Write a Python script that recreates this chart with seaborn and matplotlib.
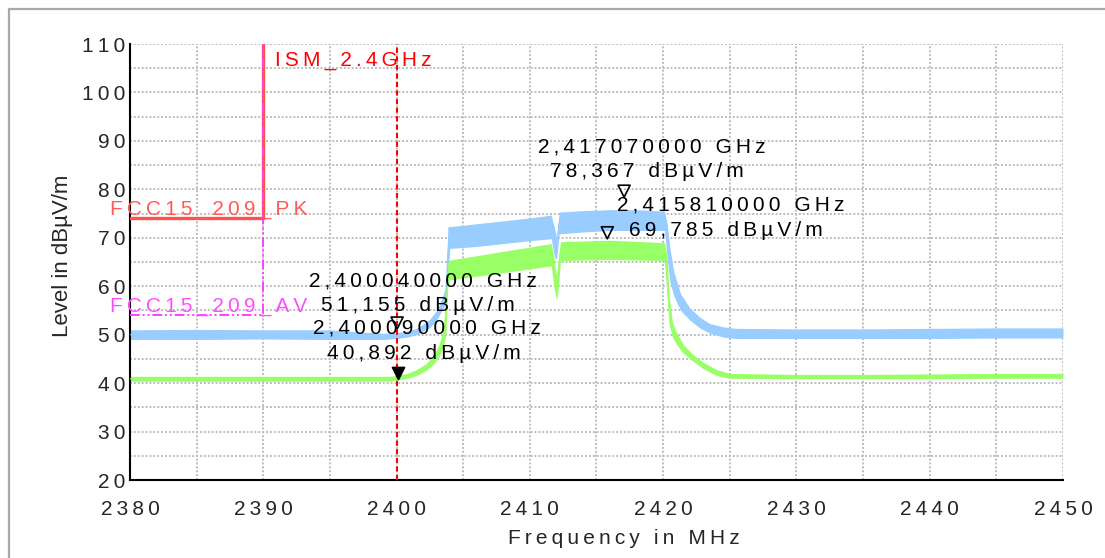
import numpy as np
import pandas as pd
import matplotlib
matplotlib.use("Agg")
import matplotlib.pyplot as plt
import seaborn as sns
from matplotlib.path import Path
from matplotlib.lines import Line2D

# ---------------- data ----------------
# Peak trace (blue): frequency (MHz), lower and upper envelope (dBµV/m)
pk_freq = [2380, 2385, 2390, 2395, 2397, 2399.0, 2400.0, 2400.8, 2401.5, 2402.0, 2402.5,
           2403.0, 2403.4, 2403.7, 2403.85, 2404.0, 2406, 2408, 2410, 2411.6, 2411.85,
           2412.0, 2412.2, 2414, 2416, 2418, 2420.1, 2420.3, 2420.5, 2420.8, 2421.3,
           2422.0, 2422.8, 2423.5, 2424.5, 2425.5, 2430, 2435, 2440, 2445, 2450]
pk_lo = [49.0, 49.0, 49.1, 49.0, 49.0, 49.0, 49.2, 49.5, 50.0, 50.8, 51.5,
         53.0, 55.0, 56.5, 62.0, 67.8, 68.2, 68.8, 69.4, 69.8, 66.0,
         65.5, 70.8, 71.2, 71.5, 71.5, 71.5, 66.0, 61.0, 58.0, 55.0,
         53.0, 51.3, 50.3, 49.5, 49.2, 49.2, 49.2, 49.2, 49.3, 49.3]
pk_hi = [51.0, 51.1, 51.0, 51.0, 50.6, 50.3, 50.4, 50.8, 51.3, 52.2, 53.2,
         55.0, 57.5, 60.0, 72.3, 72.3, 72.9, 73.5, 74.1, 74.7, 72.0,
         70.0, 75.3, 75.6, 75.8, 75.8, 75.5, 73.0, 68.0, 63.0, 58.5,
         55.5, 53.5, 52.3, 51.6, 51.3, 51.2, 51.2, 51.3, 51.4, 51.4]

# Average trace (green)
av_freq = [2380, 2385, 2390, 2395, 2399.5, 2400.0, 2400.8, 2401.5, 2402.2, 2402.8,
           2403.2, 2403.5, 2403.7, 2403.85, 2404.0, 2408, 2411.6, 2411.8, 2412.0,
           2412.15, 2412.3, 2416, 2420.1, 2420.3, 2420.45, 2420.7, 2421.0, 2421.5,
           2422.2, 2423.0, 2424.0, 2425.0, 2430, 2435, 2440, 2445, 2450]
av_lo = [40.4, 40.4, 40.4, 40.4, 40.4, 40.6, 41.0, 41.6, 42.6, 44.0,
         45.5, 47.5, 50.0, 60.0, 61.3, 62.8, 64.2, 60.0, 57.0,
         60.0, 65.3, 65.5, 65.3, 58.0, 52.0, 49.5, 48.0, 46.2,
         44.6, 43.0, 41.6, 41.0, 40.9, 40.9, 40.9, 41.0, 41.0]
av_hi = [41.4, 41.4, 41.4, 41.4, 41.4, 41.6, 42.0, 42.8, 44.0, 45.8,
         48.0, 51.0, 58.0, 65.0, 65.4, 67.2, 68.8, 66.0, 62.0,
         66.0, 69.2, 69.5, 69.0, 66.0, 58.0, 52.5, 50.5, 48.0,
         46.0, 44.3, 42.8, 42.0, 41.8, 41.8, 41.9, 42.0, 42.0]

# Limit lines
pk_limit_freq = [2380, 2390, 2390]
pk_limit_level = [74, 74, 110]
av_limit_freq = [2380, 2390, 2390]
av_limit_level = [54, 54, 110]
ism_freq = [2400, 2400]
ism_level = [20, 110]

# Markers
marker_freq = [2417.07, 2415.81, 2400.04, 2400.09]
marker_level = [78.367, 69.785, 51.155, 40.892]
marker_filled = [False, False, False, True]

x_ticks = [2380, 2390, 2400, 2410, 2420, 2430, 2440, 2450]
y_ticks = [20, 30, 40, 50, 60, 70, 80, 90, 100, 110]

# ---------------- style ----------------
sns.set_style("white")
plt.rcParams['font.family'] = ['Liberation Sans', 'DejaVu Sans']
FS = 15


def sp(s):
    return '\u2009'.join(s)


W, H = 1105, 558
fig = plt.figure(figsize=(W / 100, H / 100), dpi=100)
ax = fig.add_axes([130 / W, 78 / H, 933 / W, 436 / H])

blue = '#99ccff'
green = '#99ff66'

df_pk = pd.DataFrame({'freq': pk_freq + pk_freq, 'level': pk_lo + pk_hi})
df_av = pd.DataFrame({'freq': av_freq + av_freq, 'level': av_lo + av_hi})

sns.lineplot(data=df_pk, x='freq', y='level', estimator='mean', errorbar=('pi', 100),
             color=blue, lw=0.8, err_kws={'alpha': 1, 'lw': 0}, ax=ax, zorder=3)
sns.lineplot(data=df_av, x='freq', y='level', estimator='mean', errorbar=('pi', 100),
             color=green, lw=0.8, err_kws={'alpha': 1, 'lw': 0}, ax=ax, zorder=4)

# limit lines
sns.lineplot(x=pk_limit_freq, y=pk_limit_level, sort=False, estimator=None,
             color='#ff5050', lw=2.4, ax=ax, zorder=5)
sns.lineplot(x=av_limit_freq, y=av_limit_level, sort=False, estimator=None,
             color='#ff40ff', lw=1.4, ax=ax, zorder=6)
ax.lines[-1].set_linestyle((0, (5, 1.5, 1, 1.5, 1, 1.5)))
sns.lineplot(x=ism_freq, y=ism_level, sort=False, estimator=None,
             color='#ff0000', lw=1.5, ax=ax, zorder=7)
ax.lines[-1].set_linestyle((0, (2.5, 1.6)))

ax.text(2378.5, 74.8, sp('FCC15_209_PK'), color='#ff5a5a', fontsize=FS,
        ha='left', va='baseline', clip_on=False, zorder=8)
ax.text(2378.5, 54.8, sp('FCC15_209_AV'), color='#ff4dff', fontsize=FS,
        ha='left', va='baseline', clip_on=False, zorder=8)
ax.text(2390.9, 105.5, sp('ISM_2.4GHz'), color='#ff0000', fontsize=FS,
        ha='left', va='baseline', clip_on=False, zorder=8)

# markers (tip of the triangle at the data point)
tri = Path([(-1, 2), (1, 2), (0, 0), (-1, 2)], [Path.MOVETO, Path.LINETO, Path.LINETO, Path.CLOSEPOLY])
offsets = [((-86, 45), (-74, 20)), ((10, 28), (22, 3)), ((-88, 43), (-76, 18)), ((-85, 45), (-71, 20))]
for f, lv, filled, (o1, o2) in zip(marker_freq, marker_level, marker_filled, offsets):
    ax.scatter([f], [lv], marker=tri, s=300, facecolor='black' if filled else 'none',
               edgecolor='black', linewidth=1.2, zorder=10, clip_on=False)
    t1 = sp(f"{f / 1000:.9f}".replace('.', ',') + ' GHz')
    t2 = sp(f"{lv:.3f}".replace('.', ',') + ' dBµV/m')
    ax.annotate(t1, (f, lv), xytext=o1, textcoords='offset pixels', ha='left',
                va='baseline', fontsize=FS, color='black', zorder=11, annotation_clip=False)
    ax.annotate(t2, (f, lv), xytext=o2, textcoords='offset pixels', ha='left',
                va='baseline', fontsize=FS, color='black', zorder=11, annotation_clip=False)

# axes
ax.set_xlim(2380, 2450)
ax.set_ylim(20, 110)
ax.set_xticks(x_ticks)
ax.set_xticklabels([sp(str(v)) for v in x_ticks], fontsize=FS)
ax.set_xticks(np.arange(x_ticks[0] + 5, x_ticks[-1], 10), minor=True)
ax.set_yticks(y_ticks)
ax.set_yticklabels([sp(str(v)) for v in y_ticks], fontsize=FS)
ax.set_yticks(np.arange(y_ticks[0] + 5, y_ticks[-1], 10), minor=True)
ax.tick_params(which='both', direction='inout', length=10, width=1.3, color='black')
ax.tick_params(axis='x', which='both', pad=9.5)
ax.tick_params(axis='y', which='both', pad=-1.5)

for s in ['top', 'right']:
    ax.spines[s].set_visible(False)
for s in ['left', 'bottom']:
    ax.spines[s].set_color('black')
    ax.spines[s].set_linewidth(1.5)

ax.grid(which='both', color='#bdbdbd', linestyle=(0, (1, 1)), linewidth=1.4)
ax.set_axisbelow(True)

ax.set_xlabel(sp('Frequency in MHz'), fontsize=FS)
ax.xaxis.set_label_coords(0.529, -0.113)
ax.set_ylabel('Level in dBµV/m', fontsize=16)
ax.yaxis.set_label_coords(-0.061, 0.514)

# figure frame (left and top edges)
fig.add_artist(Line2D([8.5 / W, 8.5 / W], [0, 1 - 8.5 / H], transform=fig.transFigure,
                      color='#a8a8a8', lw=1.6))
fig.add_artist(Line2D([8.5 / W, 1], [1 - 8.5 / H, 1 - 8.5 / H], transform=fig.transFigure,
                      color='#a8a8a8', lw=1.6))

fig.savefig('out.png', dpi=100, facecolor='white')
